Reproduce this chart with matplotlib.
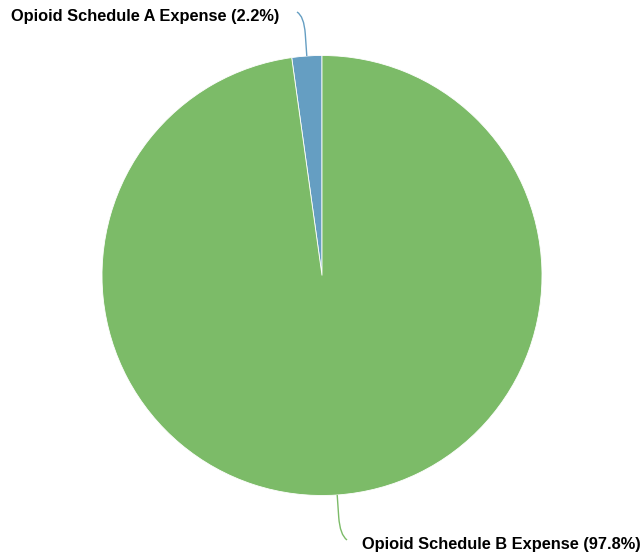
import numpy as np
import matplotlib
matplotlib.use("Agg")
import matplotlib.pyplot as plt
from matplotlib.path import Path
from matplotlib.patches import PathPatch

labels = ["Opioid Schedule A Expense", "Opioid Schedule B Expense"]
values = [2.2, 97.8]
colors = ["#659ec2", "#7cbb68"]

W, H = 642, 556
fig = plt.figure(figsize=(W / 100, H / 100), dpi=100)
ax = fig.add_axes([0, 0, 1, 1])
ax.set_xlim(0, W)
ax.set_ylim(0, H)
ax.set_aspect("equal")
ax.axis("off")

cx, cy, R = 322, H - 275.5, 220
wedges, _ = ax.pie(values, colors=colors, startangle=90, counterclock=True,
                   center=(cx, cy), radius=R,
                   wedgeprops=dict(edgecolor="white", linewidth=0.6))
ax.set_xlim(0, W)
ax.set_ylim(0, H)

total = sum(values)
# label end points (pixel coords from top) and alignment
ends = [((297, H - 12), (279, H - 16), "right"),
        ((347, H - 540), (362, H - 545), "left")]
for w, lab, v, col, (end, tpos, ha) in zip(wedges, labels, values, colors, ends):
    ang = np.deg2rad((w.theta1 + w.theta2) / 2)
    p0 = (cx + R * np.cos(ang), cy + R * np.sin(ang))
    p1 = (cx + (R + 22) * np.cos(ang), cy + (R + 22) * np.sin(ang))
    pc = (cx + (R + 40) * np.cos(ang), cy + (R + 40) * np.sin(ang))
    path = Path([p0, p1, pc, end], [Path.MOVETO, Path.LINETO, Path.CURVE3, Path.CURVE3])
    ax.add_patch(PathPatch(path, fill=False, edgecolor=col, lw=1.0))
    ax.text(tpos[0], tpos[1], f"{lab} ({v / total * 100:.1f}%)", ha=ha, va="center",
            fontsize=11.75, fontweight="bold", family="Liberation Sans", color="#000000")

fig.savefig("out.png", dpi=100)
